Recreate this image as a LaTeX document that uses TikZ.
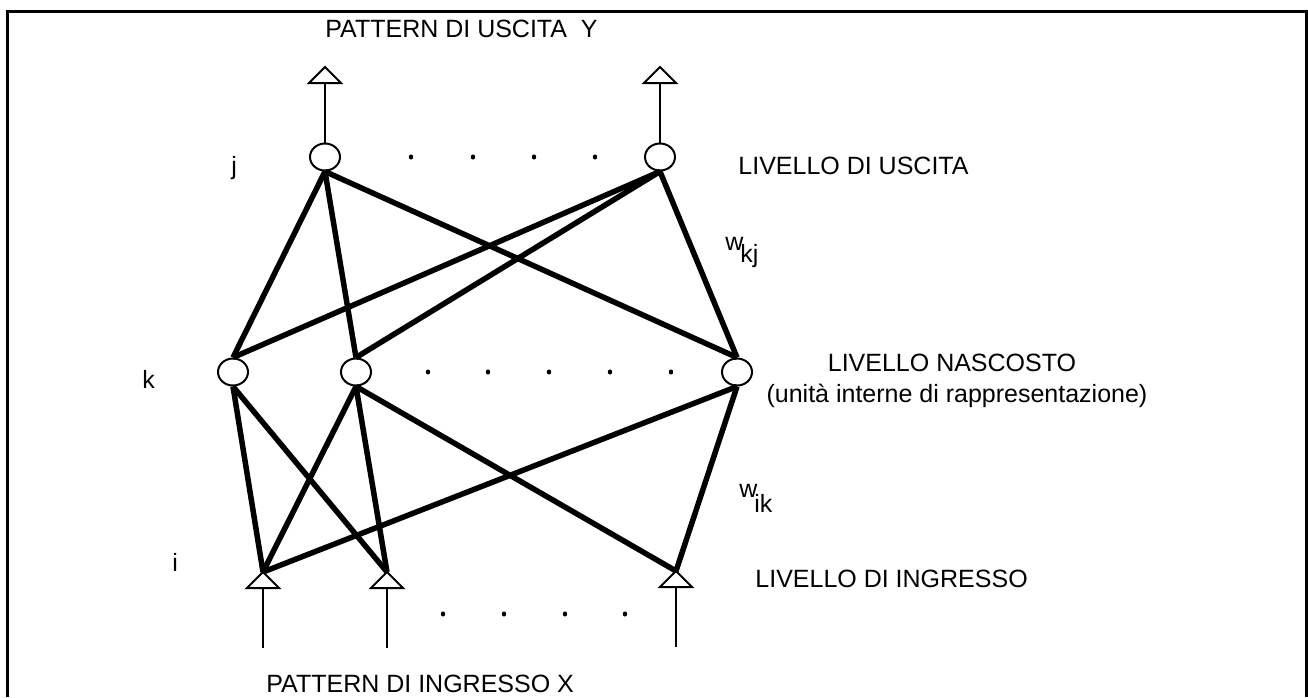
\documentclass[tikz,border=0pt]{standalone}
\usepackage{fontspec}
\setmainfont{Liberation Sans}
\usetikzlibrary{shapes.geometric}
\begin{document}
\begin{tikzpicture}[x=0.5pt,y=-0.5pt,
  neuron/.style={ellipse,draw,line width=1pt,minimum width=15pt,minimum height=13.5pt,inner sep=0pt},
  conn/.style={line width=2.75pt},
  thinline/.style={line width=1pt},
  tri/.style={line width=1pt,line join=miter},
  dotmark/.style={fill,ellipse,inner sep=0pt,minimum width=2.2pt,minimum height=2.6pt},
  lab/.style={font=\fontsize{12.5pt}{15pt}\selectfont,inner sep=0pt,anchor=base west},
  labc/.style={font=\fontsize{12.5pt}{15pt}\selectfont,inner sep=0pt,anchor=base}]
\useasboundingbox (0,0) rectangle (1308,697);
% frame
\draw[line width=1.5pt] (7,697) -- (7,11) -- (1306,11) -- (1306,697);

% output layer
\node[neuron] (j1) at (325,157) {};
\node[neuron] (j2) at (660,157) {};
% hidden layer
\node[neuron] (k1) at (233,372) {};
\node[neuron] (k2) at (356,372) {};
\node[neuron] (k3) at (737,372) {};
% input apexes
\coordinate (i1) at (263,572);
\coordinate (i2) at (387,572);
\coordinate (i3) at (676,571);
% output triangle apexes
\coordinate (o1) at (325,67);
\coordinate (o2) at (660,67);

% output triangles and lines
\foreach \o/\j in {o1/j1,o2/j2}{
  \draw[tri] (\o) -- ++(-16,16) -- ++(32,0) -- cycle;
  \draw[thinline] ([yshift=-8pt]\o) -- (\j.north);
}
% input triangles and lines
\foreach \i in {i1,i2,i3}{
  \draw[tri] (\i) -- ++(-16,16) -- ++(32,0) -- cycle;
  \draw[thinline] ([yshift=-8pt]\i) -- ++(0,60);
}

% connections output-hidden
\foreach \j in {j1,j2}{
  \foreach \k in {k1,k2,k3}{
    \draw[conn] (\j.south) -- (\k.north);
  }
}
% connections hidden-input
\draw[conn] (k1.south) -- (i1);
\draw[conn] (k1.south) -- (i2);
\draw[conn] (k2.south) -- (i1);
\draw[conn] (k2.south) -- (i2);
\draw[conn] (k2.south) -- (i3);
\draw[conn] (k3.south) -- (i1);
\draw[conn] (k3.south) -- (i3);

% dots
\foreach \x [count=\n] in {411,473,534,595} \node[dotmark] (dj\n) at (\x,157) {};
\foreach \x [count=\n] in {428,488,549,610,671} \node[dotmark] (dk\n) at (\x,372) {};
\foreach \x [count=\n] in {443,504,565,625} \node[dotmark] (di\n) at (\x,614) {};

% labels
\node[lab] (ly) at (325,37) {PATTERN DI USCITA~~Y};
\node[lab] (lx) at (266,692) {PATTERN DI INGRESSO X};
\node[lab] (lout) at (738,174) {LIVELLO DI USCITA};
\node[labc] (lhid) at (952,371) {LIVELLO NASCOSTO};
\node[labc] (lhid2) at (957,402) {(unità interne di rappresentazione)};
\node[lab] (lin) at (755,587) {LIVELLO DI INGRESSO};
\node[lab] (lj) at (231,174) {j};
\node[lab] (lk) at (142,388) {k};
\node[lab] (li) at (172,571) {i};
\node[lab] (wkj) at (725,250) {w};
\node[lab] (wkjs) at (740,262) {kj};
\node[lab] (wik) at (739,497) {w};
\node[lab] (wiks) at (754,512) {ik};
\end{tikzpicture}
\end{document}
